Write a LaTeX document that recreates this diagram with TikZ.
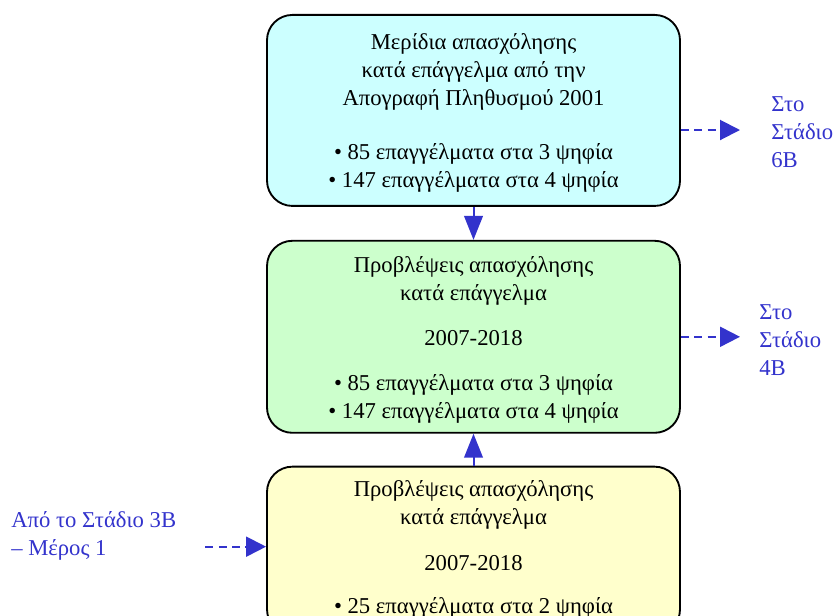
\documentclass[tikz,border=0pt]{standalone}
\usepackage{fontspec}
\setmainfont{Liberation Serif}
\usepackage{tikz}
\usetikzlibrary{positioning, arrows.meta}
\definecolor{BoxCyan}{HTML}{CCFFFF}
\definecolor{BoxGreen}{HTML}{CCFFCC}
\definecolor{BoxYellow}{HTML}{FFFFCC}
\definecolor{LinkBlue}{HTML}{3333CC}
% struts: fixed height of the first line, fixed depth of the last one
\newcommand{\toprule}[1]{\rule{0pt}{#1}}
\newcommand{\botrule}[1]{\rule[-#1]{0pt}{#1}}

\begin{document}
\begin{tikzpicture}[x=0.75pt, y=-0.75pt,
            stagebox/.style={draw=black, line width=1.4pt, rounded corners=19pt, align=center, inner xsep=0pt, inner ysep=2pt, minimum width=309.75pt, font=\fontsize{17}{21}\selectfont},
            note/.style={text=LinkBlue, align=left, inner sep=0pt, font=\fontsize{17}{21}\selectfont},
            flow/.style={-{Triangle[length=18pt, width=14pt]}, line width=1.5pt, LinkBlue},
            link/.style={-{Triangle[length=15pt, width=15pt]}, line width=1.5pt, LinkBlue, dash pattern=on 6pt off 4pt}
        ]
            \useasboundingbox (0,0) rectangle (837,616);
            \clip (0,0) rectangle (837,616);

            \node[stagebox, fill=BoxCyan, minimum height=143.25pt, anchor=north] (census) at (473.5,14) {
                \toprule{20.75pt}Μερίδια απασχόλησης\\κατά επάγγελμα από την\\Απογραφή Πληθυσμού 2001\\[19.5pt]
                • 85 επαγγέλματα στα 3 ψηφία\\• 147 επαγγέλματα στα 4 ψηφία\botrule{8pt}
            };

            \node[stagebox, fill=BoxGreen, minimum height=144pt, below=24.75pt of census] (forecast) {
                \toprule{21.5pt}Προβλέψεις απασχόλησης\\κατά επάγγελμα\\[12.75pt]2007-2018\\[12.75pt]
                • 85 επαγγέλματα στα 3 ψηφία\\• 147 επαγγέλματα στα 4 ψηφία\botrule{8pt}
            };

            \node[stagebox, fill=BoxYellow, minimum height=126pt, below=24pt of forecast] (digits) {
                \toprule{16pt}Προβλέψεις απασχόλησης\\κατά επάγγελμα\\[13.5pt]2007-2018\\[11.25pt]
                • 25 επαγγέλματα στα 2 ψηφία\botrule{9.25pt}
            };

            \node[note, anchor=north west] (toSix) at (771,92.3) {\toprule{14pt}Στο\\Στάδιο\\6B};
            \node[note, anchor=north west] (toFour) at (759,300.3) {\toprule{14pt}Στο\\Στάδιο\\4B};
            \node[note, anchor=north west] (fromThree) at (11,508.3) {\toprule{14pt}Από το Στάδιο 3B\\– Μέρος 1};

            \draw[flow] (census) -- (forecast);
            \draw[flow] (digits) -- (forecast);

            \draw[link, shorten >=23.25pt] (census.east |- toSix.west) -- (toSix.west);
            \draw[link, shorten >=14.25pt] (forecast.east) -- (forecast.east -| toFour.west);
            \draw[link, shorten <=21.75pt] ([yshift=3pt]fromThree.east |- digits.west) -- ([yshift=3pt]digits.west);

        \end{tikzpicture}
\end{document}
